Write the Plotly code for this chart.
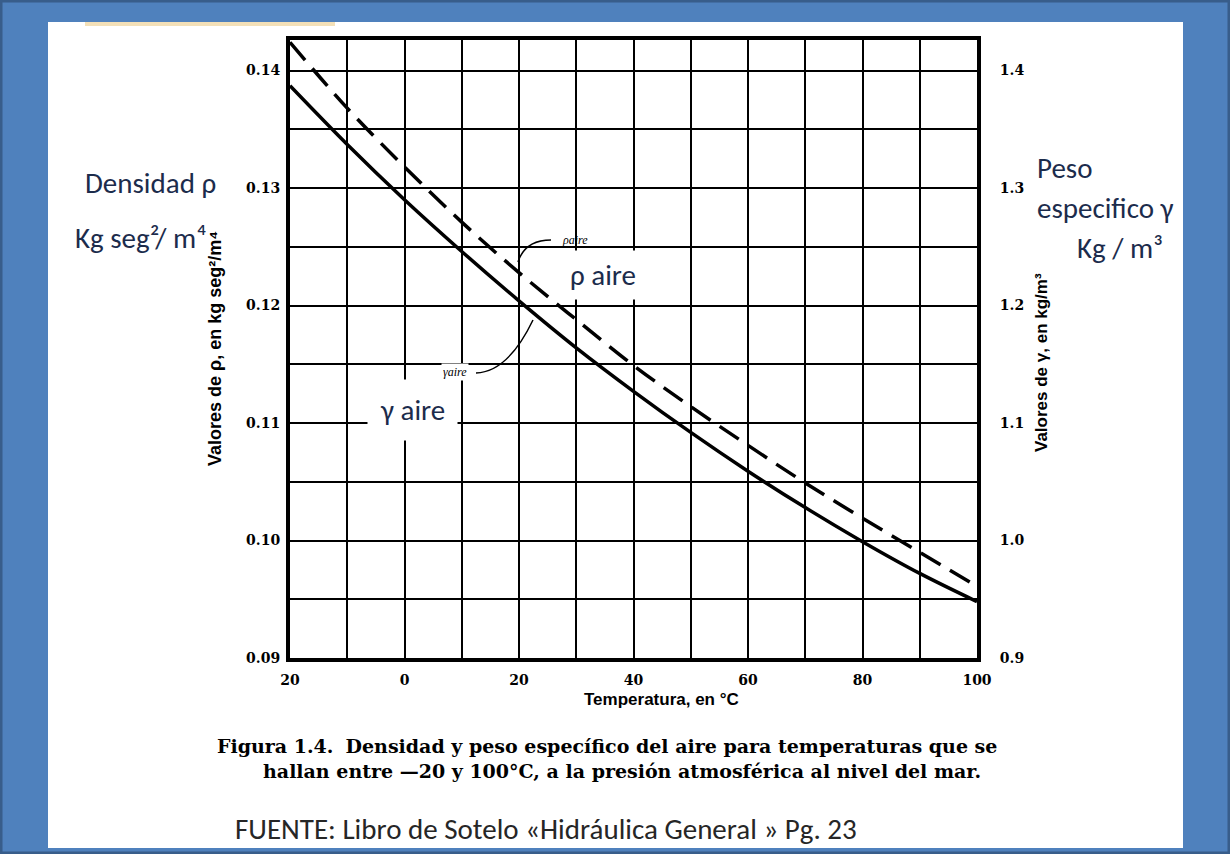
import plotly.graph_objects as go

# ---- data ----
temperature_c = [-20, -10, 0, 10, 20, 30, 40, 50, 60, 70, 80, 90, 100]
rho_aire = [0.1424, 0.1368, 0.1318, 0.1271, 0.1228, 0.1188, 0.1149, 0.1114, 0.1081, 0.1049, 0.1019, 0.0990, 0.0961]
gamma_aire = [1.387, 1.337, 1.290, 1.246, 1.204, 1.164, 1.127, 1.092, 1.059, 1.028, 0.999, 0.972, 0.948]

x_tickvals = [-20, 0, 20, 40, 60, 80, 100]
x_ticktext = ["20", "0", "20", "40", "60", "80", "100"]
rho_tickvals = [0.09, 0.10, 0.11, 0.12, 0.13, 0.14]
rho_ticktext = ["0.09", "0.10", "0.11", "0.12", "0.13", "0.14"]
gamma_tickvals = [0.9, 1.0, 1.1, 1.2, 1.3, 1.4]
gamma_ticktext = ["0.9", "1.0", "1.1", "1.2", "1.3", "1.4"]

W, H = 1230, 854
L, R, T, B = 290, 977, 40, 658  # plot area in pixels
YMIN, YMAX = 0.09, 0.1426


def px(xp):
    return (xp - L) / (R - L)


def py(yp):
    return (B - yp) / (B - T)


def bold(labels):
    return [f"<b>{t}</b>" for t in labels]


fig = go.Figure()
fig.add_trace(go.Scatter(x=temperature_c, y=rho_aire, mode="lines",
                         line=dict(color="black", width=3.5, dash="23px,11px", shape="spline"),
                         name="ρ aire", yaxis="y"))
fig.add_trace(go.Scatter(x=temperature_c, y=gamma_aire, mode="lines",
                         line=dict(color="black", width=3.5, shape="spline"),
                         name="γ aire", yaxis="y2"))

tickfont = dict(family="DejaVu Serif", size=14, color="black")
narrow = "Liberation Sans Narrow, Liberation Sans"

fig.update_layout(
    width=W, height=H,
    margin=dict(l=L, r=W - R, t=T, b=H - B),
    paper_bgcolor="#4f81bd",
    plot_bgcolor="white",
    showlegend=False,
    xaxis=dict(range=[-20, 100], tickvals=x_tickvals, ticktext=bold(x_ticktext), tickfont=tickfont,
               showgrid=True, gridcolor="black", gridwidth=2,
               minor=dict(dtick=10, tick0=-20, showgrid=True, gridcolor="black", gridwidth=2),
               showline=True, linecolor="black", linewidth=4, mirror=True, zeroline=False,
               ticks="", ticklabelstandoff=6),
    yaxis=dict(range=[YMIN, YMAX], tickvals=rho_tickvals, ticktext=bold(rho_ticktext), tickfont=tickfont,
               showgrid=True, gridcolor="black", gridwidth=2,
               minor=dict(dtick=0.005, tick0=0.09, showgrid=True, gridcolor="black", gridwidth=2),
               showline=True, linecolor="black", linewidth=4, zeroline=False, ticks="", ticklabelstandoff=3),
    yaxis2=dict(range=[YMIN * 10, YMAX * 10], tickvals=gamma_tickvals, ticktext=bold(gamma_ticktext),
                tickfont=tickfont, overlaying="y", side="right", showgrid=False, showline=True,
                linecolor="black", linewidth=4, zeroline=False, ticks="", ticklabelstandoff=16),
)

shapes = []
# white slide area, darker outer frame, tan strip
shapes.append(dict(type="rect", xref="paper", yref="paper", x0=px(48), x1=px(1183), y0=py(848), y1=py(22),
                   fillcolor="white", line=dict(width=0), layer="below"))
shapes.append(dict(type="rect", xref="paper", yref="paper", x0=px(1), x1=px(1229), y0=py(853), y1=py(1),
                   fillcolor="rgba(0,0,0,0)", line=dict(color="#385d8a", width=3), layer="below"))
shapes.append(dict(type="rect", xref="paper", yref="paper", x0=px(85), x1=px(335), y0=py(26), y1=py(22),
                   fillcolor="#f3e0b8", line=dict(width=0), layer="below"))
# leader lines for the small curve labels
shapes.append(dict(type="path", xref="paper", yref="paper",
                   path=f"M {px(551)},{py(240)} Q {px(525)},{py(240)} {px(518)},{py(262)}",
                   line=dict(color="black", width=1.5)))
shapes.append(dict(type="path", xref="paper", yref="paper",
                   path=f"M {px(476)},{py(373)} Q {px(508)},{py(372)} {px(533)},{py(320)}",
                   line=dict(color="black", width=1.5)))
fig.update_layout(shapes=shapes)

navy = "#1c2c4c"
labfont = "Carlito, Noto Sans"


def note(text, x, y, size, family, color="black", xanchor="center", **kw):
    return dict(text=text, x=px(x), y=py(y), xref="paper", yref="paper", xanchor=xanchor, yanchor="middle",
                showarrow=False, font=dict(family=family, size=size, color=color), **kw)


ann = [
    note("<b>Valores de ρ, en kg seg²/m⁴</b>", 215, 349, 18, narrow, textangle=-90),
    note("<b>Valores de γ, en kg/m³</b>", 1041, 363, 17, narrow, textangle=-90),
    note("<b>Temperatura, en °C</b>", 661, 699, 17, narrow),
    note("<b>Figura 1.4.</b>  <b>Densidad y peso específico del aire para temperaturas que se</b>",
         215, 746, 19, "DejaVu Serif", xanchor="left"),
    note("<b>hallan entre —20 y 100°C, a la presión atmosférica al nivel del mar.</b>",
         622, 771, 19, "DejaVu Serif"),
    note("FUENTE: Libro de Sotelo «Hidráulica General » Pg. 23", 233, 829, 29, labfont, "#262626",
         xanchor="left"),
    note("Densidad ρ", 150, 183, 29, labfont, navy),
    note("Kg seg²/ m⁴", 141, 238, 29, labfont, navy),
    note("Peso", 1035, 168, 29, labfont, navy, xanchor="left"),
    note("especifico γ", 1035, 208, 29, labfont, navy, xanchor="left"),
    note("Kg / m³", 1075, 248, 29, labfont, navy, xanchor="left"),
    note("ρ aire", 603, 275, 29, labfont, navy, bgcolor="white", borderpad=6),
    note("γ aire", 412, 410, 29, labfont, navy, bgcolor="white", borderpad=12),
    note("<i>ρaire</i>", 575, 240, 12, "Liberation Serif"),
    note("<i>γaire</i>", 455, 372, 12, "Liberation Serif", bgcolor="white"),
]
fig.update_layout(annotations=ann)

fig.write_html("out.html", config={"displayModeBar": False},
               post_script="document.body.style.margin='0';document.body.style.overflow='hidden';")
